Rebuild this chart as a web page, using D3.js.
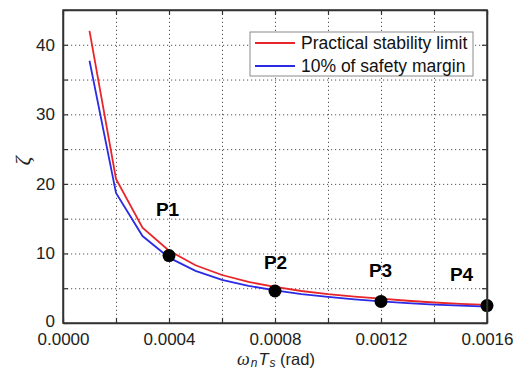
<!DOCTYPE html>
<html>
<head>
<meta charset="utf-8">
<script src="https://cdn.jsdelivr.net/npm/d3@7"></script>
<style>
body { margin: 0; background: #fff; }
svg { display: block; }
.grid line { stroke: #555; stroke-width: 1; stroke-dasharray: 1.2,2.8; }
.grid path { stroke-width: 0; }
</style>
</head>
<body>
<div id="chart"></div>
<script>
// omega_n * Ts (rad)
var xValues = [0.0001, 0.0002, 0.0003, 0.0004, 0.0005, 0.0006, 0.0007, 0.0008,
               0.0009, 0.0010, 0.0011, 0.0012, 0.0013, 0.0014, 0.0015, 0.0016];
var stabilityLimit = [42.0, 20.7, 13.7, 10.4, 8.3, 6.9, 5.9, 5.2,
                      4.6, 4.15, 3.8, 3.5, 3.2, 2.95, 2.75, 2.6];
var safetyMargin = [37.7, 18.7, 12.5, 9.4, 7.5, 6.2, 5.35, 4.7,
                    4.15, 3.75, 3.4, 3.1, 2.85, 2.65, 2.5, 2.35];
var pointNames = ["P1", "P2", "P3", "P4"];
var pointX = [0.0004, 0.0008, 0.0012, 0.0016];
var pointY = [9.7, 4.6, 3.1, 2.5];
var xTickValues = [0, 0.0004, 0.0008, 0.0012, 0.0016];
var yTickValues = [0, 10, 20, 30, 40];
var legendLabels = ["Practical stability limit", "10% of safety margin"];

var width = 519, height = 372;
var margin = {left: 63, right: 32, top: 10, bottom: 49};
var w = width - margin.left - margin.right;
var h = height - margin.top - margin.bottom;

var svg = d3.select("#chart").append("svg")
	.attr("width", width)
	.attr("height", height);

var g = svg.append("g").attr("transform", "translate(" + margin.left + "," + margin.top + ")");

var scaleX = d3.scaleLinear().domain([0, 0.0016]).range([0, w]);
var scaleY = d3.scaleLinear().domain([0, 45]).range([h, 0]);

var minorX = d3.range(0, 9).map(function(i){ return i * 0.0002; });
var minorY = d3.range(0, 10).map(function(i){ return i * 5; });

// dotted gridlines
g.append("g")
	.attr("class", "grid")
	.attr("transform", "translate(0," + h + ")")
	.call(d3.axisBottom(scaleX).tickValues(minorX.slice(1, 8)).tickSize(-h).tickFormat(""));
g.append("g")
	.attr("class", "grid")
	.call(d3.axisLeft(scaleY).tickValues(minorY.slice(1)).tickSize(-w).tickFormat(""));

// curves
var line = d3.line()
	.x(function(d){ return scaleX(d[0]); })
	.y(function(d){ return scaleY(d[1]); });

var red = "#e8262a", blue = "#2b2be6";
g.append("path")
	.attr("d", line(xValues.map(function(x, i){ return [x, stabilityLimit[i]]; })))
	.attr("fill", "none").attr("stroke", red).attr("stroke-width", 1.8);
g.append("path")
	.attr("d", line(xValues.map(function(x, i){ return [x, safetyMargin[i]]; })))
	.attr("fill", "none").attr("stroke", blue).attr("stroke-width", 1.8);

// operating points
g.selectAll("circle")
	.data(pointX)
	.enter()
	.append("circle")
		.attr("cx", function(d){ return scaleX(d); })
		.attr("cy", function(d, i){ return scaleY(pointY[i]); })
		.attr("r", 6.5)
		.attr("fill", "#000");

var labelDx = [-1.5, 0.5, -0.5, -25.5];
var labelDy = [-40, -22, -24, -25];
g.selectAll("text.plabel")
	.data(pointNames)
	.enter()
	.append("text")
		.attr("class", "plabel")
		.attr("x", function(d, i){ return scaleX(pointX[i]) + labelDx[i]; })
		.attr("y", function(d, i){ return scaleY(pointY[i]) + labelDy[i]; })
		.attr("text-anchor", "middle")
		.attr("font-family", "Arial, 'Liberation Sans', sans-serif")
		.attr("font-weight", "bold")
		.attr("font-size", "19px")
		.text(function(d){ return d; });

// frame with inward ticks
var axisColor = "#333";
function styleAxis(sel){
	sel.selectAll("path").attr("stroke", axisColor).attr("stroke-width", 1.5);
	sel.selectAll("line").attr("stroke", axisColor).attr("stroke-width", 1.2);
	sel.selectAll("text")
		.attr("font-family", "Arial, 'Liberation Sans', sans-serif")
		.attr("font-size", "17px")
		.attr("fill", "#222");
}

var xBottom = g.append("g")
	.attr("transform", "translate(0," + h + ")")
	.call(d3.axisBottom(scaleX).tickValues(minorX).tickSizeInner(-5).tickSizeOuter(0)
		.tickFormat(function(d){ return xTickValues.some(function(v){ return Math.abs(v - d) < 1e-9; }) ? d3.format(".4f")(d) : ""; })
		.tickPadding(9));
styleAxis(xBottom);
xBottom.selectAll("text").attr("dy", "0.77em");

var xTop = g.append("g")
	.call(d3.axisTop(scaleX).tickValues(minorX).tickSizeInner(-5).tickSizeOuter(0).tickFormat(""));
styleAxis(xTop);

var yLeft = g.append("g")
	.call(d3.axisLeft(scaleY).tickValues(minorY).tickSizeInner(-5).tickSizeOuter(0)
		.tickFormat(function(d){ return yTickValues.indexOf(d) >= 0 ? d : ""; })
		.tickPadding(8));
styleAxis(yLeft);
// the zero label sits a touch higher so it clears the x labels
yLeft.selectAll("text").filter(function(d){ return d === 0; }).attr("dy", "0.2em");

var yRight = g.append("g")
	.attr("transform", "translate(" + w + ",0)")
	.call(d3.axisRight(scaleY).tickValues(minorY).tickSizeInner(-5).tickSizeOuter(0).tickFormat(""));
styleAxis(yRight);

g.append("rect")
	.attr("width", w).attr("height", h)
	.attr("fill", "none").attr("stroke", axisColor).attr("stroke-width", 1.5);

// legend
var legend = g.append("g").attr("transform", "translate(" + (250 - margin.left) + "," + (32 - margin.top) + ")");
legend.append("rect")
	.attr("width", 223).attr("height", 44)
	.attr("fill", "#fff").attr("stroke", "#8a8a8a").attr("stroke-width", 1);
[red, blue].forEach(function(c, i){
	legend.append("line")
		.attr("x1", 5).attr("x2", 45)
		.attr("y1", 11 + i * 23).attr("y2", 11 + i * 23)
		.attr("stroke", c).attr("stroke-width", 1.8);
	legend.append("text")
		.attr("x", 51).attr("y", 11 + i * 23)
		.attr("dy", "0.35em")
		.attr("font-family", "Arial, 'Liberation Sans', sans-serif")
		.attr("font-size", "17.5px")
		.attr("fill", "#111")
		.text(legendLabels[i]);
});

// axis titles
svg.append("g")
	.attr("transform", "translate(30,161)")
	.append("text")
	.attr("transform", "rotate(-90)")
	.attr("text-anchor", "middle")
	.attr("font-family", "'Liberation Serif', 'Times New Roman', serif")
	.attr("font-style", "italic")
	.attr("font-size", "22px")
	.attr("fill", "#222")
	.text("ζ");

var xt = svg.append("text")
	.attr("x", margin.left + w / 2 + 1)
	.attr("y", 365)
	.attr("text-anchor", "middle")
	.attr("font-family", "Arial, 'Liberation Sans', sans-serif")
	.attr("font-size", "16.5px")
	.attr("fill", "#222");
xt.append("tspan").attr("font-family", "'Liberation Serif', serif").attr("font-style", "italic").attr("font-size", "18px").text("ω");
xt.append("tspan").attr("font-style", "italic").attr("font-size", "12px").attr("dx", "1").attr("dy", "2").text("n");
xt.append("tspan").attr("font-style", "italic").attr("dx", "1").attr("dy", "-2").text("T");
xt.append("tspan").attr("font-style", "italic").attr("font-size", "12px").attr("dx", "1").attr("dy", "2").text("s");
xt.append("tspan").attr("dy", "-2").text(" (rad)");
</script>
</body>
</html>
